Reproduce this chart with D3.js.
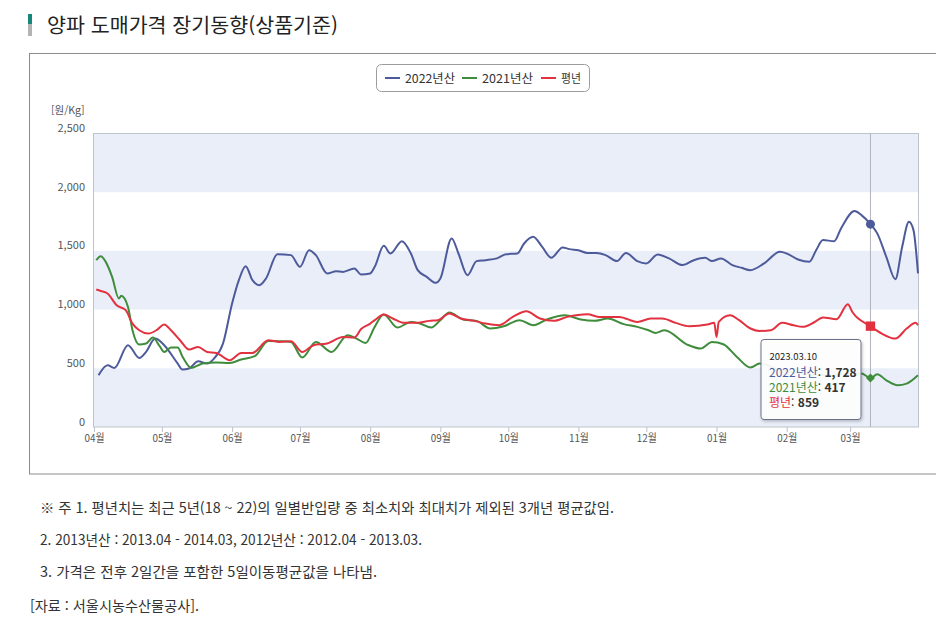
<!DOCTYPE html>
<html lang="ko">
<head>
<meta charset="utf-8">
<script src="https://cdn.jsdelivr.net/npm/d3@7/dist/d3.min.js"></script>
<style>
  html, body { margin: 0; padding: 0; background: #fff; }
  svg { display: block; font-family: 'Noto Sans CJK KR', 'Noto Sans', sans-serif; }
</style>
</head>
<body>
<svg id="chart" width="936" height="630"></svg>
<script>
// ---------- DATA ----------
const titleText = "양파 도매가격 장기동향(상품기준)";
const seriesNames = ["2022년산", "2021년산", "평년"];
const yTicks = [0, 500, 1000, 1500, 2000, 2500];
const monthStarts = ["2022-04-01","2022-05-01","2022-06-01","2022-07-01","2022-08-01","2022-09-01","2022-10-01","2022-11-01","2022-12-01","2023-01-01","2023-02-01","2023-03-01"];
const monthLabels = ["04월","05월","06월","07월","08월","09월","10월","11월","12월","01월","02월","03월"];

const dates2022 = ["2022-04-03","2022-04-07","2022-04-10","2022-04-16","2022-04-21","2022-04-24","2022-04-28","2022-05-02","2022-05-08","2022-05-10","2022-05-13","2022-05-17","2022-05-21","2022-05-24","2022-05-28","2022-06-01","2022-06-04","2022-06-07","2022-06-10","2022-06-13","2022-06-16","2022-06-21","2022-06-27","2022-07-01","2022-07-05","2022-07-08","2022-07-13","2022-07-17","2022-07-20","2022-07-25","2022-07-28","2022-08-01","2022-08-03","2022-08-07","2022-08-10","2022-08-15","2022-08-19","2022-08-22","2022-08-26","2022-08-30","2022-09-01","2022-09-06","2022-09-09","2022-09-13","2022-09-17","2022-09-21","2022-09-26","2022-09-30","2022-10-05","2022-10-08","2022-10-12","2022-10-16","2022-10-20","2022-10-25","2022-10-28","2022-11-01","2022-11-05","2022-11-09","2022-11-13","2022-11-18","2022-11-22","2022-11-27","2022-12-01","2022-12-06","2022-12-11","2022-12-17","2022-12-22","2022-12-27","2022-12-30","2023-01-03","2023-01-08","2023-01-12","2023-01-16","2023-01-22","2023-01-29","2023-02-01","2023-02-06","2023-02-11","2023-02-14","2023-02-17","2023-02-22","2023-02-25","2023-03-03","2023-03-06","2023-03-10","2023-03-13","2023-03-17","2023-03-21","2023-03-24","2023-03-27","2023-03-29","2023-03-31"];
const prices2022 = [441,526,503,697,588,640,753,697,540,489,498,560,540,583,711,1052,1251,1370,1251,1208,1265,1472,1464,1364,1506,1464,1308,1327,1321,1350,1299,1308,1364,1543,1478,1583,1478,1336,1279,1228,1265,1606,1478,1293,1413,1421,1436,1472,1478,1563,1620,1534,1441,1529,1515,1506,1483,1483,1464,1413,1483,1413,1393,1470,1436,1379,1421,1441,1413,1436,1379,1356,1336,1393,1492,1478,1427,1407,1506,1592,1583,1691,1839,1805,1728,1649,1449,1259,1534,1748,1677,1308];

const dates2021 = ["2022-04-02","2022-04-04","2022-04-06","2022-04-09","2022-04-12","2022-04-13","2022-04-16","2022-04-18","2022-04-21","2022-04-24","2022-04-27","2022-04-30","2022-05-02","2022-05-05","2022-05-08","2022-05-10","2022-05-14","2022-05-19","2022-05-25","2022-05-31","2022-06-05","2022-06-11","2022-06-17","2022-06-22","2022-06-27","2022-07-02","2022-07-08","2022-07-15","2022-07-22","2022-07-26","2022-07-30","2022-08-03","2022-08-07","2022-08-13","2022-08-19","2022-08-23","2022-08-28","2022-09-01","2022-09-05","2022-09-11","2022-09-17","2022-09-23","2022-09-29","2022-10-06","2022-10-12","2022-10-18","2022-10-26","2022-11-02","2022-11-08","2022-11-14","2022-11-21","2022-11-27","2022-12-02","2022-12-05","2022-12-09","2022-12-19","2022-12-25","2022-12-30","2023-01-04","2023-01-10","2023-01-16","2023-01-20","2023-01-27","2023-02-02","2023-02-11","2023-02-20","2023-02-27","2023-03-06","2023-03-10","2023-03-13","2023-03-17","2023-03-22","2023-03-26","2023-03-31"];
const prices2021 = [1421,1455,1413,1279,1095,1117,1023,824,702,711,762,688,639,677,677,603,503,540,549,546,575,603,733,731,725,592,725,639,782,753,716,853,958,847,895,881,847,910,975,916,904,839,858,910,867,916,952,916,904,924,876,853,824,801,824,702,668,725,705,597,506,540,500,470,450,440,455,455,417,449,398,355,370,441];

const datesAvg = ["2022-04-02","2022-04-04","2022-04-07","2022-04-11","2022-04-15","2022-04-18","2022-04-21","2022-04-25","2022-04-29","2022-05-02","2022-05-05","2022-05-09","2022-05-13","2022-05-17","2022-05-21","2022-05-25","2022-05-31","2022-06-05","2022-06-10","2022-06-17","2022-06-22","2022-06-27","2022-07-02","2022-07-07","2022-07-13","2022-07-20","2022-07-25","2022-07-28","2022-08-01","2022-08-03","2022-08-07","2022-08-11","2022-08-16","2022-08-22","2022-08-27","2022-08-31","2022-09-05","2022-09-10","2022-09-16","2022-09-21","2022-09-27","2022-10-03","2022-10-09","2022-10-15","2022-10-21","2022-10-27","2022-11-05","2022-11-10","2022-11-19","2022-11-27","2022-12-03","2022-12-08","2022-12-14","2022-12-20","2022-12-28","2022-12-31","2023-01-01","2023-01-02","2023-01-07","2023-01-11","2023-01-16","2023-01-20","2023-01-25","2023-01-30","2023-02-04","2023-02-08","2023-02-13","2023-02-17","2023-02-23","2023-02-28","2023-03-02","2023-03-10","2023-03-15","2023-03-21","2023-03-26","2023-03-30","2023-03-31"];
const pricesAvg = [1171,1159,1137,1037,995,881,824,796,830,873,824,739,660,682,639,631,569,631,631,739,725,731,639,697,711,767,762,835,881,910,958,924,887,887,904,910,967,924,904,881,867,938,986,924,904,938,961,938,938,895,924,924,887,858,873,887,767,895,952,910,839,818,824,887,867,853,890,933,918,1046,980,859,796,753,839,887,867];

const tooltipDate = "2023-03-10";
const tooltipValues = [1728, 417, 859];

const noteLines = [
  "※ 주 1. 평년치는 최근 5년(18 ~ 22)의 일별반입량 중 최소치와 최대치가 제외된 3개년 평균값임.",
  "2. 2013년산 : 2013.04 - 2014.03, 2012년산 : 2012.04 - 2013.03.",
  "3. 가격은 전후 2일간을 포함한 5일이동평균값을 나타냄.",
  "[자료 : 서울시농수산물공사]."
];

// ---------- STYLE / LAYOUT ----------
const colors = ["#4e5b9b", "#3f8d3c", "#e2323f"];
const parse = d3.timeParse("%Y-%m-%d");
const svg = d3.select("#chart");

const plot = { left: 94, right: 918, top: 133.5, bottom: 427 };

const x = d3.scaleTime()
  .domain([parse("2022-04-01"), parse("2023-03-31")])
  .range([plot.left, plot.right]);
const y = d3.scaleLinear().domain([0, 2500]).range([plot.bottom, plot.top]);

// Title
svg.append("rect").attr("x", 28).attr("y", 14).attr("width", 4).attr("height", 10).attr("fill", "#17877a");
svg.append("rect").attr("x", 28).attr("y", 24).attr("width", 4).attr("height", 12).attr("fill", "#b3b3b3");
svg.append("text").attr("x", 47).attr("y", 33)
  .attr("font-size", 20).attr("fill", "#222")
  .attr("textLength", 291).attr("lengthAdjust", "spacingAndGlyphs")
  .text(titleText);

// Outer container
svg.append("rect").attr("x", 29.5).attr("y", 53.5).attr("width", 930).attr("height", 420.5)
  .attr("fill", "none").attr("stroke", "#8c8c8c").attr("stroke-width", 1);

// Bands
const bandStarts = [0, 1000, 2000];
svg.append("g").selectAll("rect").data(bandStarts).join("rect")
  .attr("x", plot.left).attr("width", plot.right - plot.left)
  .attr("y", d => y(d + 500)).attr("height", d => y(d) - y(d + 500))
  .attr("fill", "#e9eef9");

// Plot border
svg.append("rect").attr("x", plot.left - 0.5).attr("y", plot.top)
  .attr("width", plot.right - plot.left + 1).attr("height", plot.bottom - plot.top)
  .attr("fill", "none").attr("stroke", "#bfc3cc").attr("stroke-width", 1);

// X axis
const xAxis = d3.axisBottom(x)
  .tickValues(monthStarts.map(parse))
  .tickFormat((d, i) => monthLabels[i])
  .tickSize(5).tickPadding(2);
const gx = svg.append("g").attr("transform", `translate(0,${plot.bottom})`).call(xAxis);
gx.select(".domain").remove();
gx.selectAll(".tick line").attr("stroke", "#bfc3cc");
gx.selectAll(".tick text").attr("font-size", 11).attr("fill", "#555")
  .attr("font-family", "'Noto Sans CJK KR', sans-serif")
  .attr("textLength", 20).attr("lengthAdjust", "spacingAndGlyphs");

// Y axis
const yAxis = d3.axisLeft(y).tickValues(yTicks).tickFormat(d3.format(",")).tickSize(0).tickPadding(9);
const gy = svg.append("g").attr("transform", `translate(${plot.left},0)`).call(yAxis);
gy.select(".domain").remove();
gy.selectAll(".tick text").attr("font-size", 11).attr("fill", "#555").attr("dy", "-2")
  .attr("font-family", "'Noto Sans CJK KR', sans-serif");

svg.append("text").attr("x", 51).attr("y", 114).attr("font-size", 10.5).attr("fill", "#555")
  .text("[원/Kg]");

// Lines
const seriesData = [
  dates2022.map((d, i) => ({ date: parse(d), v: prices2022[i] })),
  dates2021.map((d, i) => ({ date: parse(d), v: prices2021[i] })),
  datesAvg.map((d, i) => ({ date: parse(d), v: pricesAvg[i] }))
];
const line = d3.line().x(d => x(d.date)).y(d => y(d.v)).curve(d3.curveMonotoneX);

const order = [0, 1, 2];
svg.append("g").selectAll("path").data(order).join("path")
  .attr("d", i => line(seriesData[i]))
  .attr("fill", "none")
  .attr("stroke", i => colors[i])
  .attr("stroke-width", 2)
  .attr("stroke-linejoin", "round");

// Crosshair
const tx = x(parse(tooltipDate));
svg.append("line").attr("x1", tx).attr("x2", tx).attr("y1", plot.top).attr("y2", plot.bottom)
  .attr("stroke", "#b0b3ba").attr("stroke-width", 1);

// Markers
svg.append("circle").attr("cx", tx).attr("cy", y(tooltipValues[0])).attr("r", 4.5).attr("fill", colors[0]);
svg.append("rect").attr("x", -3.2).attr("y", -3.2).attr("width", 6.4).attr("height", 6.4)
  .attr("transform", `translate(${tx},${y(tooltipValues[1])}) rotate(45)`).attr("fill", colors[1]);
svg.append("rect").attr("x", tx - 4.7).attr("y", y(tooltipValues[2]) - 4.7).attr("width", 9.4).attr("height", 9.4)
  .attr("fill", colors[2]);

// Legend
const legend = svg.append("g");
legend.append("rect").attr("x", 376.5).attr("y", 64.5).attr("width", 213).attr("height", 27).attr("rx", 5)
  .attr("fill", "#fff").attr("stroke", "#9c9c9c");
const legendX = [385, 462, 541];
const legendW = [50, 51, 20];
seriesNames.forEach((name, i) => {
  legend.append("line").attr("x1", legendX[i]).attr("x2", legendX[i] + 15).attr("y1", 78).attr("y2", 78)
    .attr("stroke", colors[i]).attr("stroke-width", 2);
  legend.append("text").attr("x", legendX[i] + 20).attr("y", 82.5).attr("font-size", 12).attr("fill", "#333")
    .attr("textLength", legendW[i]).attr("lengthAdjust", "spacingAndGlyphs")
    .text(name);
});

// Tooltip
const defs = svg.append("defs");
const f = defs.append("filter").attr("id", "shadow").attr("x", "-20%").attr("y", "-20%").attr("width", "150%").attr("height", "150%");
f.append("feDropShadow").attr("dx", 1).attr("dy", 1.5).attr("stdDeviation", 1.5).attr("flood-color", "#000").attr("flood-opacity", 0.25);

const tip = svg.append("g").attr("transform", "translate(761,339.5)");
tip.append("rect").attr("width", 100).attr("height", 80).attr("rx", 3)
  .attr("fill", "#fff").attr("fill-opacity", 0.92)
  .attr("stroke", "#6b7088").attr("stroke-width", 1).attr("filter", "url(#shadow)");
tip.append("text").attr("x", 8.5).attr("y", 20).attr("font-size", 9.5).attr("fill", "#222")
  .text(tooltipDate.replace(/-/g, "."));
const fmt = d3.format(",");
seriesNames.forEach((name, i) => {
  const t = tip.append("text").attr("x", 8).attr("y", 37 + i * 15.4).attr("font-size", 12);
  t.append("tspan").attr("fill", colors[i]).text(name);
  t.append("tspan").attr("fill", "#333").text(": ");
  t.append("tspan").attr("fill", "#333").attr("font-weight", "bold").text(fmt(tooltipValues[i]));
});

// Notes
const noteX = [40, 40, 40, 30];
const noteY = [513, 545, 577, 611];
const noteW = [574, 382, 337, 169];
svg.append("g").selectAll("text").data(noteLines).join("text")
  .attr("x", (d, i) => noteX[i]).attr("y", (d, i) => noteY[i])
  .attr("font-size", 14).attr("fill", "#333")
  .attr("textLength", (d, i) => noteW[i]).attr("lengthAdjust", "spacingAndGlyphs")
  .text(d => d);
</script>
</body>
</html>
